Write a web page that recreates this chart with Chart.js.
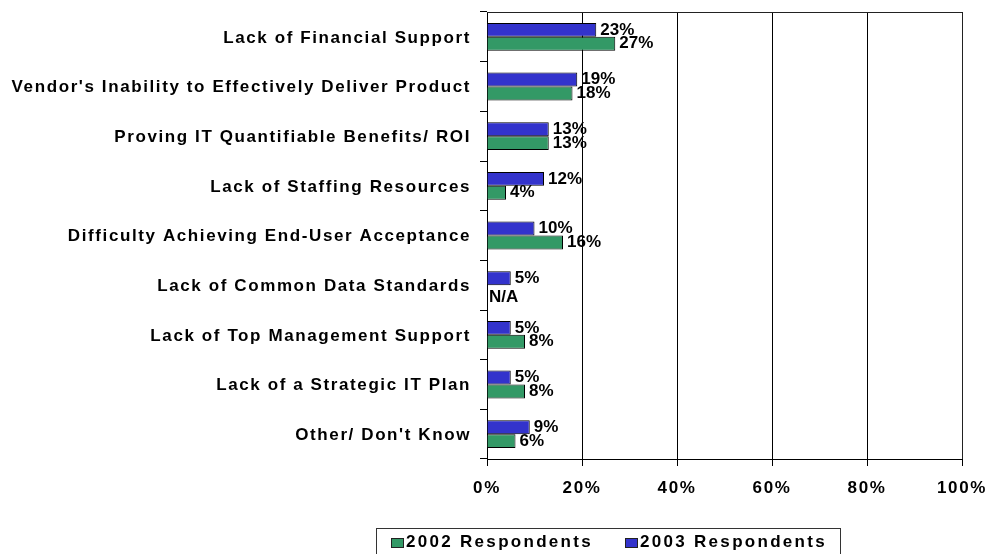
<!DOCTYPE html>
<html>
<head>
<meta charset="utf-8">
<script src="https://cdn.jsdelivr.net/npm/chart.js@4.4.1/dist/chart.umd.min.js"></script>
<style>
  html, body { margin: 0; padding: 0; background: #fff; overflow: hidden; }
  #wrap { position: relative; width: 987px; height: 554px; }
  #legend {
    position: absolute; left: 376px; top: 528px; width: 465px; height: 40px;
    border: 1px solid #333; box-sizing: border-box;
    font: bold 17px "Liberation Sans", Arial, sans-serif; letter-spacing: 2.3px; color: #000;
  }
  #legend .item { position: absolute; top: 3px; white-space: nowrap; }
  #legend .box {
    display: inline-block; width: 11px; height: 8px; border: 1px solid #222;
    margin-right: 2px; vertical-align: -1px;
  }
</style>
</head>
<body>
<div id="wrap">
  <canvas id="chart" width="987" height="554"></canvas>
  <div id="legend"></div>
</div>
<script>
// survey categories, top to bottom
var categories = [
  'Lack of Financial Support',
  "Vendor's Inability to Effectively Deliver Product",
  'Proving IT Quantifiable Benefits/ ROI',
  'Lack of Staffing Resources',
  'Difficulty Achieving End-User Acceptance',
  'Lack of Common Data Standards',
  'Lack of Top Management Support',
  'Lack of a Strategic IT Plan',
  "Other/ Don't Know"
];
var values2003 = [23, 19, 13, 12, 10, 5, 5, 5, 9];
var values2002 = [27, 18, 13, 4, 16, null, 8, 8, 6];
var xTicks = [0, 20, 40, 60, 80, 100];

var FONT = '"Liberation Sans", Arial, sans-serif';

// value labels at the bar ends, N/A where there is no value
var barLabels = {
  id: 'barLabels',
  afterDatasetsDraw: function (chart) {
    var ctx = chart.ctx;
    var xs = chart.scales.x;
    ctx.save();
    ctx.letterSpacing = '0px';
    ctx.font = 'bold 17px ' + FONT;
    ctx.fillStyle = '#000';
    ctx.textAlign = 'left';
    ctx.textBaseline = 'middle';
    chart.data.datasets.forEach(function (ds, di) {
      var meta = chart.getDatasetMeta(di);
      meta.data.forEach(function (bar, i) {
        var v = ds.data[i];
        if (v === null) {
          ctx.fillText('N/A', xs.getPixelForValue(0) + 2, bar.y + 5);
        } else {
          ctx.fillText(v + '%', bar.x + 4, bar.y);
        }
      });
    });
    ctx.restore();
  }
};

// frame around the plot + wider text spacing like the original
var frame = {
  id: 'frame',
  beforeDraw: function (chart) {
    chart.ctx.letterSpacing = '1.6px';
  },
  afterDraw: function (chart) {
    var a = chart.chartArea, ctx = chart.ctx;
    ctx.save();
    ctx.strokeStyle = '#222';
    ctx.lineWidth = 1;
    ctx.beginPath();
    ctx.moveTo(a.left, a.top + 0.5);
    ctx.lineTo(a.right + 0.5, a.top + 0.5);
    ctx.lineTo(a.right + 0.5, a.bottom);
    ctx.stroke();
    ctx.restore();
  }
};

var chart = new Chart(document.getElementById('chart').getContext('2d'), {
  type: 'bar',
  data: {
    labels: categories,
    datasets: [
      {
        label: '2003 Respondents',
        data: values2003,
        backgroundColor: '#3333cc',
        borderColor: '#000',
        borderWidth: 1
      },
      {
        label: '2002 Respondents',
        data: values2002,
        backgroundColor: '#339966',
        borderColor: '#000',
        borderWidth: 1
      }
    ]
  },
  options: {
    indexAxis: 'y',
    responsive: false,
    devicePixelRatio: 1,
    animation: false,
    categoryPercentage: 0.56,
    barPercentage: 1.0,
    layout: { padding: { top: 12, right: 25, left: 0, bottom: 0 } },
    plugins: {
      legend: { display: false },
      tooltip: { enabled: false }
    },
    scales: {
      x: {
        min: 0,
        max: 100,
        afterBuildTicks: function (scale) {
          scale.ticks = xTicks.map(function (v) { return { value: v }; });
        },
        afterFit: function (scale) {
          scale.height = 95;
          scale.paddingLeft = 0;
          scale.paddingRight = 0;
        },
        ticks: {
          color: '#000',
          padding: 12,
          font: { family: FONT, size: 17, weight: 'bold' },
          callback: function (v) { return v + '%'; }
        },
        grid: { color: '#000', lineWidth: 1, tickLength: 7 },
        border: { color: '#000', width: 1 }
      },
      y: {
        afterFit: function (scale) {
          scale.width = 487;
          scale.paddingTop = 0;
          scale.paddingBottom = 0;
        },
        ticks: {
          color: '#000',
          padding: 9,
          labelOffset: 1,
          font: { family: FONT, size: 17, weight: 'bold' }
        },
        grid: { offset: true, drawOnChartArea: false, color: '#000', tickLength: 7 },
        border: { color: '#000', width: 1 }
      }
    }
  },
  plugins: [barLabels, frame]
});

// legend box, 2002 first like the original
var legendPos = { '2002 Respondents': 14, '2003 Respondents': 248 };
var legendEl = document.getElementById('legend');
chart.data.datasets.slice().reverse().forEach(function (ds) {
  var item = document.createElement('span');
  item.className = 'item';
  item.style.left = legendPos[ds.label] + 'px';
  var box = document.createElement('span');
  box.className = 'box';
  box.style.background = ds.backgroundColor;
  item.appendChild(box);
  item.appendChild(document.createTextNode(ds.label));
  legendEl.appendChild(item);
});
</script>
</body>
</html>
